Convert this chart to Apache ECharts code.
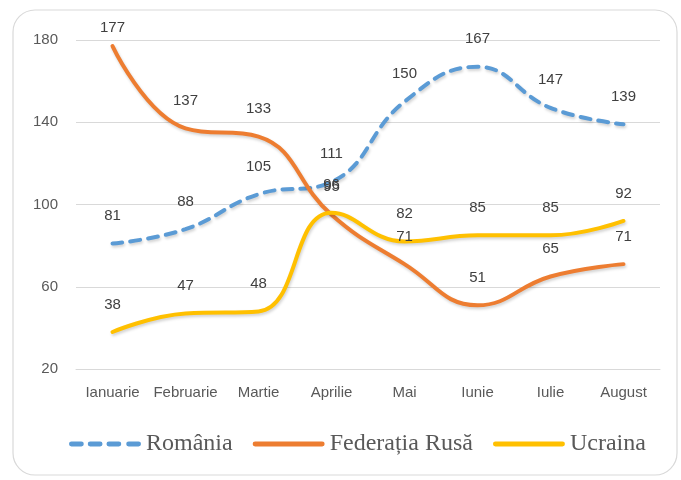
<!DOCTYPE html>
<html><head><meta charset="utf-8">
<style>html,body{margin:0;padding:0;background:#fff}#c{width:681px;height:480px}</style>
<script src="https://cdn.jsdelivr.net/npm/echarts@6/dist/echarts.min.js"></script>
</head><body><div id="c"></div>
<script>
const categories = ['Ianuarie','Februarie','Martie','Aprilie','Mai','Iunie','Iulie','August'];
const romania = [81, 88, 105, 111, 150, 167, 147, 139];
const rusia = [177, 137, 133, 95, 71, 51, 65, 71];
const ucraina = [38, 47, 48, 96, 82, 85, 85, 92];
const yTicks = {min: 20, max: 180, interval: 40};

const chart = echarts.init(document.getElementById('c'));
const lbl = {show: true, position: 'top', distance: 20, color: '#404040', fontSize: 15, fontFamily: 'Liberation Sans'};
// keep labels inside the plot area (as Excel does) for values near the top
function items(data) {
  return data.map(v => v > yTicks.max - 10 ? {value: v, label: {distance: 11}} : v);
}
function ser(name, data, color, type) {
  return {name, type: 'line', data: items(data), smooth: 0.45, symbol: 'circle', symbolSize: 0.1, showSymbol: true,
    z: type === 'dashed' ? 3 : 2,
    lineStyle: {color, width: 4, type: type, cap: 'round', shadowColor: 'rgba(0,0,0,0.18)', shadowBlur: 3, shadowOffsetX: 1, shadowOffsetY: 2},
    itemStyle: {color}, label: lbl, emphasis: {disabled: true}};
}
const solidIcon = 'path://M2,0h68a2.5,2.5 0 0 1 0,5h-68a2.5,2.5 0 0 1 0,-5z';
const dashIcon = 'path://M2,0h10a2.5,2.5 0 0 1 0,5h-10a2.5,2.5 0 0 1 0,-5z M21,0h10a2.5,2.5 0 0 1 0,5h-10a2.5,2.5 0 0 1 0,-5z M40,0h10a2.5,2.5 0 0 1 0,5h-10a2.5,2.5 0 0 1 0,-5z M60,0h10a2.5,2.5 0 0 1 0,5h-10a2.5,2.5 0 0 1 0,-5z';
chart.setOption({
  animation: false,
  graphic: [{type: 'rect', shape: {x: 13, y: 10, width: 664, height: 465, r: 22},
    style: {fill: 'none', stroke: '#d9d9d9', lineWidth: 1.2}, z: -1}],
  grid: {left: 76, right: 21, top: 40, bottom: 111},
  legend: {top: 427, left: 64, itemWidth: 72, itemHeight: 5, itemGap: 20,
    textStyle: {fontFamily: 'Liberation Serif', fontSize: 24, color: '#595959', padding: [0, 0, 0, 0]},
    data: [{name: 'România', icon: dashIcon, itemStyle: {color: '#5B9BD5'}},
           {name: 'Federația Rusă', icon: solidIcon, itemStyle: {color: '#ED7D31'}},
           {name: 'Ucraina', icon: solidIcon, itemStyle: {color: '#FFC000'}}]},
  xAxis: {type: 'category', data: categories, boundaryGap: true,
    axisLine: {lineStyle: {color: '#d9d9d9'}}, axisTick: {show: false},
    axisLabel: {color: '#595959', fontSize: 15, fontFamily: 'Liberation Sans', margin: 16, interval: 0}},
  yAxis: {type: 'value', min: yTicks.min, max: yTicks.max, interval: yTicks.interval,
    axisLine: {show: false}, axisTick: {show: false},
    splitLine: {lineStyle: {color: '#d9d9d9'}},
    axisLabel: {color: '#595959', fontSize: 15, fontFamily: 'Liberation Sans', margin: 18}},
  series: [
    ser('România', romania, '#5B9BD5', [10, 8]),
    ser('Federația Rusă', rusia, '#ED7D31', 'solid'),
    ser('Ucraina', ucraina, '#FFC000', 'solid')
  ]
});
</script></body></html>
